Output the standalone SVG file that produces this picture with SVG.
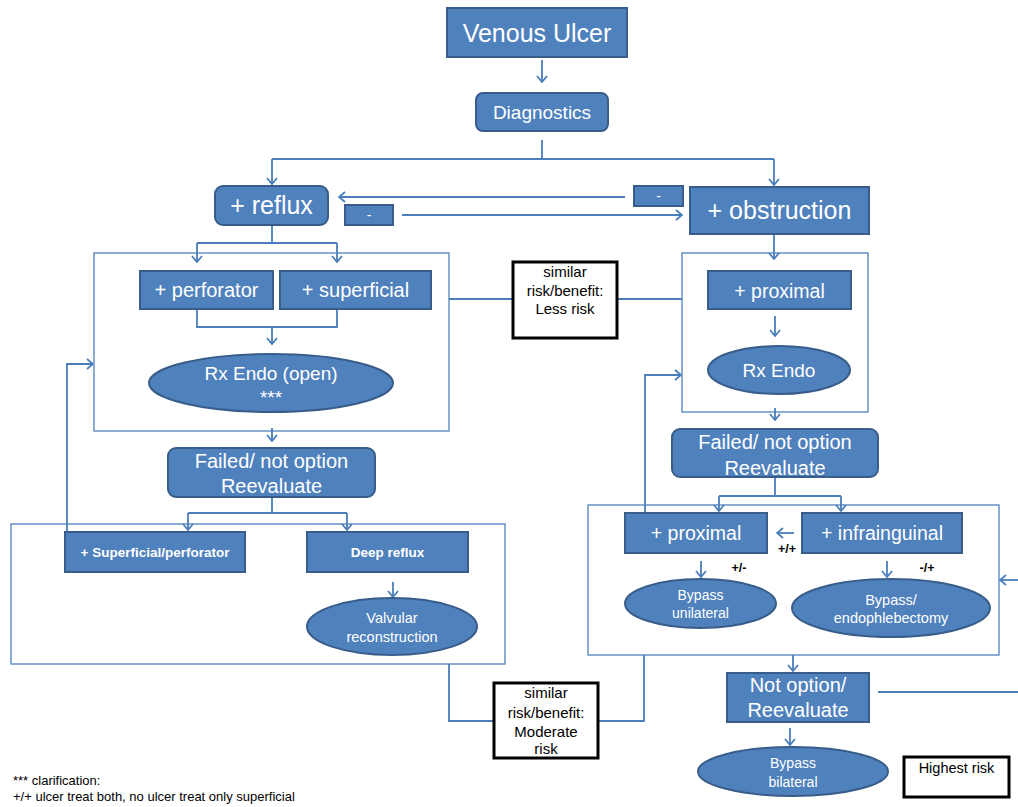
<svg xmlns="http://www.w3.org/2000/svg" width="1018" height="807" viewBox="0 0 1018 807">
<defs>
<style>
.b{fill:#4F81BD;stroke:#385D8A;stroke-width:2}
.g{fill:none;stroke:#4F81BD;stroke-width:1.3}
.k{fill:#fff;stroke:#000;stroke-width:3}
.c{fill:none;stroke:#4A7EBB;stroke-width:1.8}
.a{marker-end:url(#ah)}
text{font-family:"Liberation Sans",Arial,sans-serif;text-anchor:middle}
.w{fill:#fff}
.d{fill:#000}
.bo{font-weight:bold}
</style>
<marker id="ah" viewBox="0 0 8 12" refX="7" refY="6" markerWidth="8" markerHeight="12" orient="auto" markerUnits="userSpaceOnUse">
<path d="M1,1 L7,6 L1,11" fill="none" stroke="#4A7EBB" stroke-width="1.8"/>
</marker>
</defs>
<rect width="1018" height="807" fill="#fff"/>

<g id="groups">
<rect class="g" x="94" y="253" width="355" height="178"/>
<rect class="g" x="682" y="253" width="186" height="159"/>
<rect class="g" x="11" y="524" width="494" height="140"/>
<rect class="g" x="588" y="505" width="411" height="150"/>
</g>

<g id="connectors">
<path class="c a" d="M542,60 L542,82"/>
<path class="c" d="M542,140 L542,159 M272,159 L774,159"/>
<path class="c a" d="M272,159 L272,184"/>
<path class="c a" d="M774,159 L774,185"/>
<path class="c a" d="M625,197 L339,197"/>
<path class="c a" d="M402,215 L682,215"/>
<path class="c" d="M272,225 L272,243 M197,243 L337,243"/>
<path class="c a" d="M197,243 L197,262"/>
<path class="c a" d="M337,243 L337,262"/>
<path class="c" d="M197,309 L197,327 L337,327 L337,309"/>
<path class="c a" d="M272,327 L272,344"/>
<path class="c a" d="M272,428 L272,441"/>
<path class="c" d="M449,299 L513,299 M617,299 L682,299"/>
<path class="c a" d="M774,234 L774,259"/>
<path class="c a" d="M775,316 L775,336"/>
<path class="c a" d="M775,408 L775,420"/>
<path class="c" d="M272,497 L272,513 M188,513 L347,513"/>
<path class="c a" d="M188,513 L188,530"/>
<path class="c a" d="M347,513 L347,530"/>
<path class="c a" d="M393,582 L393,597"/>
<path class="c a" d="M67,533 L67,364 L93,364"/>
<path class="c" d="M449,664 L449,721 L494,721 M598,721 L644,721 L644,655"/>
<path class="c" d="M775,477 L775,496 M719,496 L841,496"/>
<path class="c a" d="M719,496 L719,511"/>
<path class="c a" d="M841,496 L841,511"/>
<path class="c a" d="M645,513 L645,375 L681,375"/>
<path class="c a" d="M794,533 L777,533"/>
<path class="c a" d="M701,561 L701,577"/>
<path class="c a" d="M887,561 L887,577"/>
<path class="c a" d="M1018,580 L1000,580"/>
<path class="c a" d="M793,655 L793,671"/>
<path class="c" d="M878,692 L1018,692"/>
<path class="c a" d="M790,728 L790,745"/>
</g>

<g id="venous-ulcer"><rect class="b" x="447" y="8" width="180" height="49"/><text class="w" x="537" y="42" font-size="25">Venous Ulcer</text></g>
<g id="diagnostics"><rect class="b" x="476" y="93" width="132" height="38" rx="7"/><text class="w" x="542" y="119" font-size="19">Diagnostics</text></g>
<g id="minus-right"><rect class="b" x="634" y="186" width="49" height="20"/><text class="w" x="658.5" y="201" font-size="14">-</text></g>
<g id="minus-left"><rect class="b" x="345" y="205" width="48" height="20"/><text class="w" x="369" y="220" font-size="14">-</text></g>
<g id="reflux"><rect class="b" x="215" y="186" width="113" height="39" rx="8"/><text class="w" x="271.5" y="214" font-size="25">+ reflux</text></g>
<g id="obstruction"><rect class="b" x="690" y="187" width="179" height="47"/><text class="w" x="779.5" y="219" font-size="25">+ obstruction</text></g>
<g id="perforator"><rect class="b" x="140" y="271" width="133" height="38"/><text class="w" x="206.5" y="297" font-size="20">+ perforator</text></g>
<g id="superficial"><rect class="b" x="280" y="271" width="151" height="38"/><text class="w" x="355.5" y="297" font-size="20">+ superficial</text></g>
<g id="rx-endo-open"><ellipse class="b" cx="271" cy="383" rx="122" ry="29"/><text class="w" x="271" y="380" font-size="19">Rx Endo (open)</text><text class="w" x="271" y="404" font-size="19">***</text></g>
<g id="similar-less"><rect class="k" x="513" y="262" width="104" height="76"/><text class="d" font-size="15"><tspan x="565" y="277">similar</tspan><tspan x="565" y="296">risk/benefit:</tspan><tspan x="565" y="314">Less risk</tspan></text></g>
<g id="proximal-top"><rect class="b" x="708" y="271" width="143" height="38"/><text class="w" x="779.5" y="298" font-size="19.5">+ proximal</text></g>
<g id="rx-endo"><ellipse class="b" cx="779" cy="370" rx="71" ry="24"/><text class="w" x="779" y="377" font-size="19">Rx Endo</text></g>
<g id="failed-left"><rect class="b" x="168" y="448" width="207" height="49" rx="8"/><text class="w" font-size="20"><tspan x="271.5" y="468">Failed/ not option</tspan><tspan x="271.5" y="493">Reevaluate</tspan></text></g>
<g id="superficial-perforator"><rect class="b" x="65" y="532" width="180" height="40"/><text class="w bo" x="155" y="557" font-size="13.5">+ Superficial/perforator</text></g>
<g id="deep-reflux"><rect class="b" x="307" y="532" width="161" height="40"/><text class="w bo" x="387.5" y="557" font-size="13.5">Deep reflux</text></g>
<g id="valvular"><ellipse class="b" cx="392" cy="626.5" rx="85" ry="28.5"/><text class="w" font-size="14.5"><tspan x="392" y="623">Valvular</tspan><tspan x="392" y="641.5">reconstruction</tspan></text></g>
<g id="similar-moderate"><rect class="k" x="494" y="683" width="104" height="75"/><text class="d" font-size="15"><tspan x="546" y="698">similar</tspan><tspan x="546" y="718">risk/benefit:</tspan><tspan x="546" y="736.5">Moderate</tspan><tspan x="546" y="754">risk</tspan></text></g>
<g id="failed-right"><rect class="b" x="672" y="429" width="206" height="48" rx="8"/><text class="w" font-size="20"><tspan x="775" y="449">Failed/ not option</tspan><tspan x="775" y="475">Reevaluate</tspan></text></g>
<g id="proximal-low"><rect class="b" x="625" y="513" width="142" height="40"/><text class="w" x="696" y="540" font-size="19.5">+ proximal</text></g>
<g id="infrainguinal"><rect class="b" x="802" y="513" width="160" height="40"/><text class="w" x="882" y="540" font-size="19.5">+ infrainguinal</text></g>
<g id="labels"><text class="d bo" x="787" y="553" font-size="12.5">+/+</text><text class="d bo" x="739" y="572" font-size="12.5">+/-</text><text class="d bo" x="927" y="572" font-size="12.5">-/+</text></g>
<g id="bypass-unilateral"><ellipse class="b" cx="700.5" cy="603.5" rx="75.5" ry="24.5"/><text class="w" font-size="14"><tspan x="700.5" y="600">Bypass</tspan><tspan x="700.5" y="618">unilateral</tspan></text></g>
<g id="bypass-endo"><ellipse class="b" cx="891" cy="608" rx="99" ry="29"/><text class="w" font-size="14.5"><tspan x="891" y="605">Bypass/</tspan><tspan x="891" y="623">endophlebectomy</tspan></text></g>
<g id="not-option"><rect class="b" x="727" y="673" width="142" height="49"/><text class="w" font-size="20"><tspan x="798" y="692">Not option/</tspan><tspan x="798" y="717">Reevaluate</tspan></text></g>
<g id="bypass-bilateral"><ellipse class="b" cx="793" cy="771.5" rx="95" ry="24.5"/><text class="w" font-size="14"><tspan x="793" y="768">Bypass</tspan><tspan x="793" y="786.5">bilateral</tspan></text></g>
<g id="highest-risk"><rect class="k" x="904" y="757" width="105" height="40"/><text class="d" x="956.5" y="773" font-size="14.5">Highest risk</text></g>
<g id="footnote"><text class="d" font-size="13" text-anchor="start" style="text-anchor:start"><tspan x="13" y="785">*** clarification:</tspan><tspan x="13" y="801">+/+ ulcer treat both, no ulcer treat only superficial</tspan></text></g>
</svg>
